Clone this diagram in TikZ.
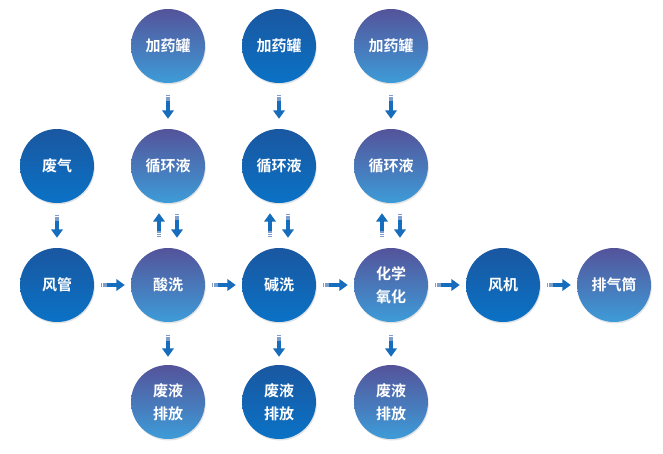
\documentclass[tikz,border=0pt]{standalone}
\usepackage{fontspec}
\newfontfamily\cjk{Noto Sans CJK SC}[BoldFont={Noto Sans CJK SC Bold}]
\usetikzlibrary{arrows.meta,shadows}
\definecolor{dtop}{HTML}{1A57A0}
\definecolor{dbot}{HTML}{0A72C6}
\definecolor{ptop}{HTML}{54539A}
\definecolor{pbot}{HTML}{3D9CD8}
\definecolor{arr}{HTML}{176DBD}
\definecolor{arrl}{HTML}{7E9DCC}
\tikzset{
  base/.style={circle, minimum size=74pt, inner sep=0pt, text=white,
    font=\cjk\bfseries\fontsize{15}{23}\selectfont, align=center,
    drop shadow={opacity=0.22, shadow xshift=0.8pt, shadow yshift=-1.5pt}},
  dk/.style={base, top color=dtop, bottom color=dbot},
  pu/.style={base, top color=ptop, bottom color=pbot},
  flow/.style={draw=arr, line width=4.8pt,
    dash pattern=on 0pt off 6pt on 80pt off 0pt,
    -{Triangle[width=11.5pt,length=8.5pt]}},
  tail/.style={draw=arrl, line width=4.8pt,
    dash pattern=on 1.2pt off 0.9pt on 1.2pt off 0.9pt on 1.2pt off 80pt},
  both/.style={flow, postaction={tail, -}},
}
\begin{document}
\begin{tikzpicture}[x=1pt,y=-1pt]
\useasboundingbox (0,0) rectangle (663,453);
% row 1
\node[pu] (j1) at (168,46) {加药罐};
\node[dk] (j2) at (279,46) {加药罐};
\node[pu] (j3) at (391,46) {加药罐};
% row 2
\node[dk] (fq) at (57,166) {废气};
\node[pu] (x1) at (168,166) {循环液};
\node[dk] (x2) at (279,166) {循环液};
\node[pu] (x3) at (391,166) {循环液};
% row 3
\node[dk] (fg) at (57,285) {风管};
\node[pu] (sx) at (168,285) {酸洗};
\node[dk] (jx) at (279,285) {碱洗};
\node[pu] (hx) at (391,285) {化学\\氧化};
\node[dk] (fj) at (503,285) {风机};
\node[pu] (pq) at (614,285) {排气筒};
% row 4
\node[pu] (w1) at (168,402) {废液\\排放};
\node[dk] (w2) at (279,402) {废液\\排放};
\node[pu] (w3) at (391,402) {废液\\排放};
% horizontal arrows
\foreach \a/\b in {fg/sx, sx/jx, jx/hx, hx/fj, fj/pq}
  \draw[both, shorten <=7pt, shorten >=6pt] (\a) -- (\b);
% top arrows
\foreach \a/\b in {j1/x1, j2/x2, j3/x3}
  \draw[both, shorten <=12pt, shorten >=10pt] (\a) -- (\b);
\draw[both, shorten <=12pt, shorten >=10pt] (fq) -- (fg);
% double arrows
\foreach \a/\b in {x1/sx, x2/jx, x3/hx}{
  \draw[both, shorten <=11pt, shorten >=10pt] ([xshift=-9pt]\b.north) -- ([xshift=-9pt]\a.south);
  \draw[both, shorten <=11pt, shorten >=10pt] ([xshift=9pt]\a.south) -- ([xshift=9pt]\b.north);
}
% bottom arrows
\foreach \a/\b in {sx/w1, jx/w2, hx/w3}
  \draw[both, shorten <=13pt, shorten >=8pt] (\a) -- (\b);
\end{tikzpicture}
\end{document}
